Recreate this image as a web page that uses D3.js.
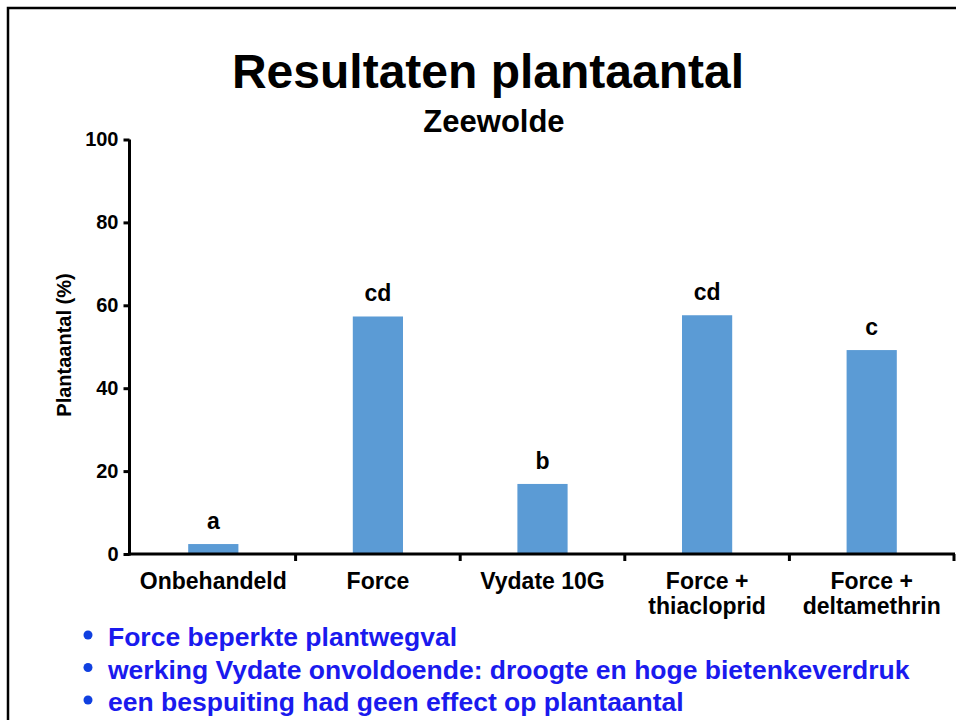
<!DOCTYPE html>
<html><head><meta charset="utf-8">
<script src="https://cdn.jsdelivr.net/npm/d3@7"></script>
<style>body{margin:0;background:#fff}svg{display:block}text{font-family:Arial,"Liberation Sans",sans-serif;font-weight:bold}</style>
</head><body>
<script>
const categories = [["Onbehandeld"], ["Force"], ["Vydate 10G"], ["Force +", "thiacloprid"], ["Force +", "deltamethrin"]];
const values = [2.4, 57.3, 16.9, 57.6, 49.2];
const letters = ["a", "cd", "b", "cd", "c"];
const yTicks = [0, 20, 40, 60, 80, 100];
const bullets = ["Force beperkte plantwegval", "werking Vydate onvoldoende: droogte en hoge bietenkeverdruk", "een bespuiting had geen effect op plantaantal"];

const W = 956, H = 720;
const svg = d3.select("body").append("svg").attr("width", W).attr("height", H);
svg.append("rect").attr("x", 8).attr("y", 8).attr("width", W + 10).attr("height", H + 10)
  .attr("fill", "none").attr("stroke", "#000").attr("stroke-width", 2.5);

svg.append("text").attr("x", 488).attr("y", 88).attr("text-anchor", "middle").attr("font-size", 48).text("Resultaten plantaantal");
svg.append("text").attr("x", 494).attr("y", 132).attr("text-anchor", "middle").attr("font-size", 31).text("Zeewolde");

const x = d3.scaleBand().domain(d3.range(categories.length)).range([131, 954]).paddingInner(0.695).paddingOuter(0.3475);
const xb = d3.scaleBand().domain(d3.range(categories.length)).range([131, 954]);
const y = d3.scaleLinear().domain([0, 100]).range([554, 139.5]);

svg.selectAll(".bar").data(values).enter().append("rect")
  .attr("x", (d, i) => x(i)).attr("width", x.bandwidth())
  .attr("y", d => y(d)).attr("height", d => y(0) - y(d)).attr("fill", "#5b9bd5");

svg.selectAll(".lt").data(letters).enter().append("text")
  .attr("x", (d, i) => xb(i) + xb.bandwidth() / 2).attr("y", (d, i) => y(values[i]) - 15)
  .attr("text-anchor", "middle").attr("font-size", 23).text(d => d);

// y axis
const ya = svg.append("g").attr("transform", "translate(129.5,0)")
  .call(d3.axisLeft(y).tickValues(yTicks).tickSize(6).tickPadding(5));
ya.select(".domain").attr("stroke-width", 3).attr("d", `M0,${y(100)}V${y(0)+1.5}`);
ya.selectAll(".tick line").attr("stroke-width", 3);
ya.selectAll(".tick text").attr("font-size", 20).attr("font-family", "Arial, 'Liberation Sans', sans-serif").attr("font-weight", "bold").attr("fill", "#000");

// x axis
const xa = svg.append("g").attr("transform", `translate(0,${y(0)})`);
xa.append("line").attr("x1", 128).attr("x2", 955).attr("stroke", "#000").attr("stroke-width", 3);
xa.selectAll(".xt").data(d3.range(categories.length)).enter().append("line")
  .attr("x1", i => xb(i) + xb.bandwidth()).attr("x2", i => xb(i) + xb.bandwidth())
  .attr("y1", 0).attr("y2", 7).attr("stroke", "#000").attr("stroke-width", 3);

const cl = svg.selectAll(".cl").data(categories).enter().append("text")
  .attr("x", (d, i) => xb(i) + xb.bandwidth() / 2).attr("y", 589)
  .attr("text-anchor", "middle").attr("font-size", 23);
cl.selectAll("tspan").data(d => d).enter().append("tspan")
  .attr("x", function () { return d3.select(this.parentNode).attr("x"); })
  .attr("dy", (d, j) => j === 0 ? 0 : 25).text(d => d);

svg.append("text").attr("transform", "translate(71,345) rotate(-90)").attr("text-anchor", "middle")
  .attr("font-size", 20).text("Plantaantal (%)");

const bl = svg.selectAll(".bl").data(bullets).enter().append("g")
  .attr("transform", (d, i) => `translate(0,${646 + i * 32.5})`);
bl.append("circle").attr("cx", 88).attr("cy", -11).attr("r", 4.5).attr("fill", "#1040e0");
bl.append("text").attr("x", 108).attr("y", 0).attr("font-size", 26.5).attr("fill", "#1a1aee").text(d => d);
</script>
</body></html>
